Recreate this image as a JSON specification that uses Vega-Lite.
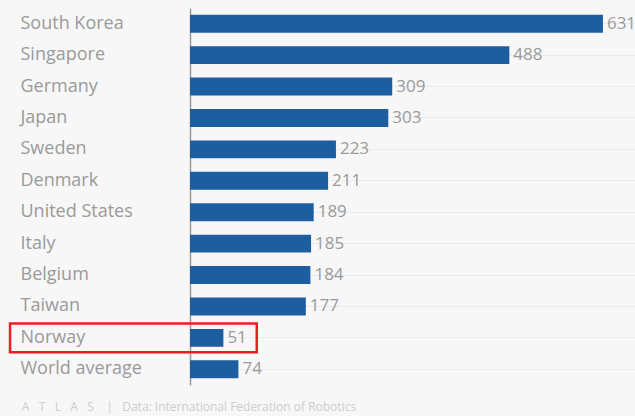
{
  "$schema": "https://vega.github.io/schema/vega-lite/v6.json",
  "width": 445,
  "height": 377,
  "autosize": "none",
  "padding": {"left": 190, "top": 8, "right": 0, "bottom": 31},
  "background": "#f7f7f7",
  "config": {"view": {"stroke": null}, "font": "Open Sans"},
  "datasets": {
    "robots": [
      {"country": "South Korea", "robots": 631},
      {"country": "Singapore", "robots": 488},
      {"country": "Germany", "robots": 309},
      {"country": "Japan", "robots": 303},
      {"country": "Sweden", "robots": 223},
      {"country": "Denmark", "robots": 211},
      {"country": "United States", "robots": 189},
      {"country": "Italy", "robots": 185},
      {"country": "Belgium", "robots": 184},
      {"country": "Taiwan", "robots": 177},
      {"country": "Norway", "robots": 51},
      {"country": "World average", "robots": 74}
    ],
    "highlight": [{"country": "Norway", "from": -275, "to": 102}]
  },
  "layer": [
    {
      "data": {"name": "robots"},
      "mark": {"type": "bar", "color": "#1c5e9f"},
      "encoding": {
        "y": {
          "field": "country", "type": "nominal", "sort": null,
          "scale": {"paddingInner": 0.43, "paddingOuter": 0.215},
          "axis": {
            "title": null, "ticks": false, "domainColor": "#9a9a9a", "domainWidth": 1.5,
            "labelAlign": "left", "labelPadding": 170, "labelFontSize": 18,
            "labelColor": "#9a9a9a", "labelFont": "Open Sans",
            "grid": true, "gridColor": "#ebebeb", "bandPosition": 0.5
          }
        },
        "x": {"field": "robots", "type": "quantitative", "scale": {"domain": [0, 680], "nice": false}, "axis": null}
      }
    },
    {
      "data": {"name": "robots"},
      "mark": {"type": "text", "align": "left", "baseline": "middle", "dx": 4, "fontSize": 17, "color": "#9a9a9a", "font": "Open Sans"},
      "encoding": {
        "y": {"field": "country", "type": "nominal", "sort": null},
        "x": {"field": "robots", "type": "quantitative"},
        "text": {"field": "robots", "type": "quantitative"}
      }
    },
    {
      "data": {"name": "highlight"},
      "mark": {"type": "rect", "fill": null, "fillOpacity": 0, "stroke": "#ee1c24", "strokeWidth": 2.5, "height": {"band": 1.6}},
      "encoding": {
        "y": {"field": "country", "type": "nominal", "sort": null},
        "x": {"field": "from", "type": "quantitative"},
        "x2": {"field": "to"}
      }
    }
  ],
  "title": {
    "text": "A\u00a0\u00a0\u00a0T\u00a0\u00a0\u00a0L\u00a0\u00a0\u00a0A\u00a0\u00a0\u00a0S\u00a0\u00a0\u00a0\u00a0|\u00a0\u00a0\u00a0Data: International Federation of Robotics",
    "orient": "bottom", "anchor": "start", "frame": "bounds", "dx": 13,
    "fontSize": 12, "fontWeight": "normal", "color": "#cdcdcd", "offset": 17, "font": "Open Sans"
  }
}
